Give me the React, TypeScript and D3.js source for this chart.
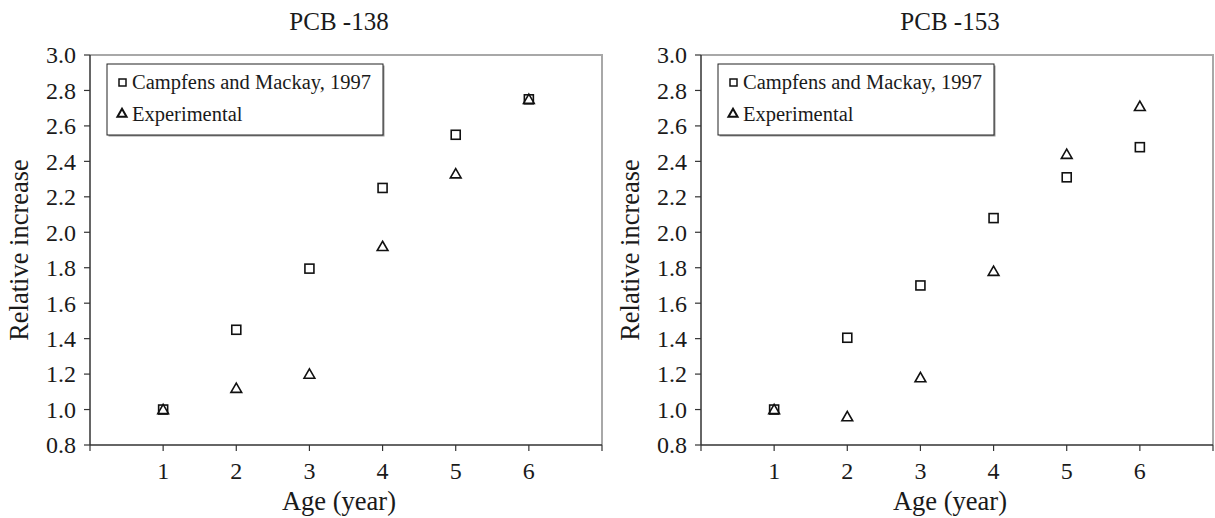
import { useEffect, useRef } from "react";
import * as d3 from "d3";

// ages on the x axis
const ages = [1, 2, 3, 4, 5, 6];
const xTicks = [0, 1, 2, 3, 4, 5, 6, 7];
const yTicks = [0.8, 1.0, 1.2, 1.4, 1.6, 1.8, 2.0, 2.2, 2.4, 2.6, 2.8, 3.0];

const seriesNames = ["Campfens and Mackay, 1997", "Experimental"];

// PCB-138
const pcb138Campfens = [1.0, 1.45, 1.795, 2.25, 2.55, 2.75];
const pcb138Experimental = [1.0, 1.12, 1.2, 1.92, 2.33, 2.75];

// PCB-153
const pcb153Campfens = [1.0, 1.405, 1.7, 2.08, 2.31, 2.48];
const pcb153Experimental = [1.0, 0.96, 1.18, 1.78, 2.44, 2.71];

const panels = [
  { title: "PCB -138", campfens: pcb138Campfens, experimental: pcb138Experimental },
  { title: "PCB -153", campfens: pcb153Campfens, experimental: pcb153Experimental },
];

const W = 1215;
const H = 518;
const FONT = "'Liberation Serif', 'Times New Roman', serif";

const App = () => {
  const svgRef = useRef<SVGSVGElement | null>(null);

  useEffect(() => {
    const svg = d3.select(svgRef.current);
    svg.selectAll("*").remove();

    svg.append("rect").attr("width", W).attr("height", H).attr("fill", "#fff");

    const plotLefts = [90, 701];
    const plotW = 512;
    const top = 55;
    const bottom = 445;

    panels.forEach((p, pi) => {
      const left = plotLefts[pi];
      const x = d3.scaleLinear().domain([0, 7]).range([left, left + plotW]);
      const y = d3.scaleLinear().domain([0.8, 3.0]).range([bottom, top]);
      const g = svg.append("g").attr("font-family", FONT).attr("fill", "#1a1a1a");

      // light frame on top and right
      g.append("path")
        .attr("d", `M${x(0)},${y(3)}H${x(7)}V${y(0.8)}`)
        .attr("fill", "none")
        .attr("stroke", "#a8a8a8")
        .attr("stroke-width", 2);

      // axes
      g.append("line")
        .attr("x1", x(0)).attr("x2", x(7))
        .attr("y1", y(0.8)).attr("y2", y(0.8))
        .attr("stroke", "#333").attr("stroke-width", 1.5);
      g.append("line")
        .attr("x1", x(0)).attr("x2", x(0))
        .attr("y1", y(0.8)).attr("y2", y(3))
        .attr("stroke", "#333").attr("stroke-width", 1.5);

      // x ticks
      xTicks.forEach((t) => {
        g.append("line")
          .attr("x1", x(t)).attr("x2", x(t))
          .attr("y1", y(0.8)).attr("y2", y(0.8) + 6)
          .attr("stroke", "#333").attr("stroke-width", 1.2);
      });
      ages.forEach((t) => {
        g.append("text")
          .attr("x", x(t))
          .attr("y", 479)
          .attr("text-anchor", "middle")
          .attr("font-size", 24)
          .text(t);
      });

      // y ticks
      yTicks.forEach((t) => {
        g.append("line")
          .attr("x1", x(0) - 6).attr("x2", x(0))
          .attr("y1", y(t)).attr("y2", y(t))
          .attr("stroke", "#333").attr("stroke-width", 1.2);
        g.append("text")
          .attr("x", x(0) - 14)
          .attr("y", y(t))
          .attr("dy", "0.35em")
          .attr("text-anchor", "end")
          .attr("font-size", 24)
          .text(d3.format(".1f")(t));
      });

      // titles
      g.append("text")
        .attr("x", (x(0) + x(7)) / 2 - 7)
        .attr("y", 30)
        .attr("text-anchor", "middle")
        .attr("font-size", 25)
        .text(p.title);
      g.append("text")
        .attr("x", (x(0) + x(7)) / 2 - 7)
        .attr("y", 510)
        .attr("text-anchor", "middle")
        .attr("font-size", 26.5)
        .text("Age (year)");
      g.append("text")
        .attr("transform", `translate(${left - 62},${(top + bottom) / 2}) rotate(-90)`)
        .attr("text-anchor", "middle")
        .attr("font-size", 26.5)
        .text("Relative increase");

      // markers
      const sq = 9;
      g.selectAll(".sq")
        .data(p.campfens)
        .enter()
        .append("rect")
        .attr("x", (d, i) => x(ages[i]) - sq / 2)
        .attr("y", (d) => y(d) - sq / 2)
        .attr("width", sq)
        .attr("height", sq)
        .attr("fill", "none")
        .attr("stroke", "#111")
        .attr("stroke-width", 1.6);

      const tri = d3.symbol().type(d3.symbolTriangle).size(50);
      g.selectAll(".tri")
        .data(p.experimental)
        .enter()
        .append("path")
        .attr("d", tri)
        .attr("transform", (d, i) => `translate(${x(ages[i])},${y(d) + 1})`)
        .attr("fill", "none")
        .attr("stroke", "#111")
        .attr("stroke-width", 1.6);

      // legend
      const lx = left + 17;
      const ly = 64;
      g.append("rect")
        .attr("x", lx + 1.5).attr("y", ly + 1.5)
        .attr("width", 276).attr("height", 71)
        .attr("fill", "#999");
      g.append("rect")
        .attr("x", lx).attr("y", ly)
        .attr("width", 276).attr("height", 71)
        .attr("fill", "#fff")
        .attr("stroke", "#222")
        .attr("stroke-width", 1);
      g.append("rect")
        .attr("x", lx + 12).attr("y", 79)
        .attr("width", 7).attr("height", 7)
        .attr("fill", "none").attr("stroke", "#111").attr("stroke-width", 1.5);
      g.append("path")
        .attr("d", d3.symbol().type(d3.symbolTriangle).size(36))
        .attr("transform", `translate(${lx + 15},${114})`)
        .attr("fill", "none").attr("stroke", "#111").attr("stroke-width", 2);
      seriesNames.forEach((s, i) => {
        g.append("text")
          .attr("x", lx + 25)
          .attr("y", 89 + i * 31.5)
          .attr("font-size", 20.5)
          .text(s);
      });
    });
  }, []);

  return (
    <svg
      ref={svgRef}
      width={W}
      height={H}
      style={{ position: "absolute", left: 0, top: 0 }}
    />
  );
};

export default App;
